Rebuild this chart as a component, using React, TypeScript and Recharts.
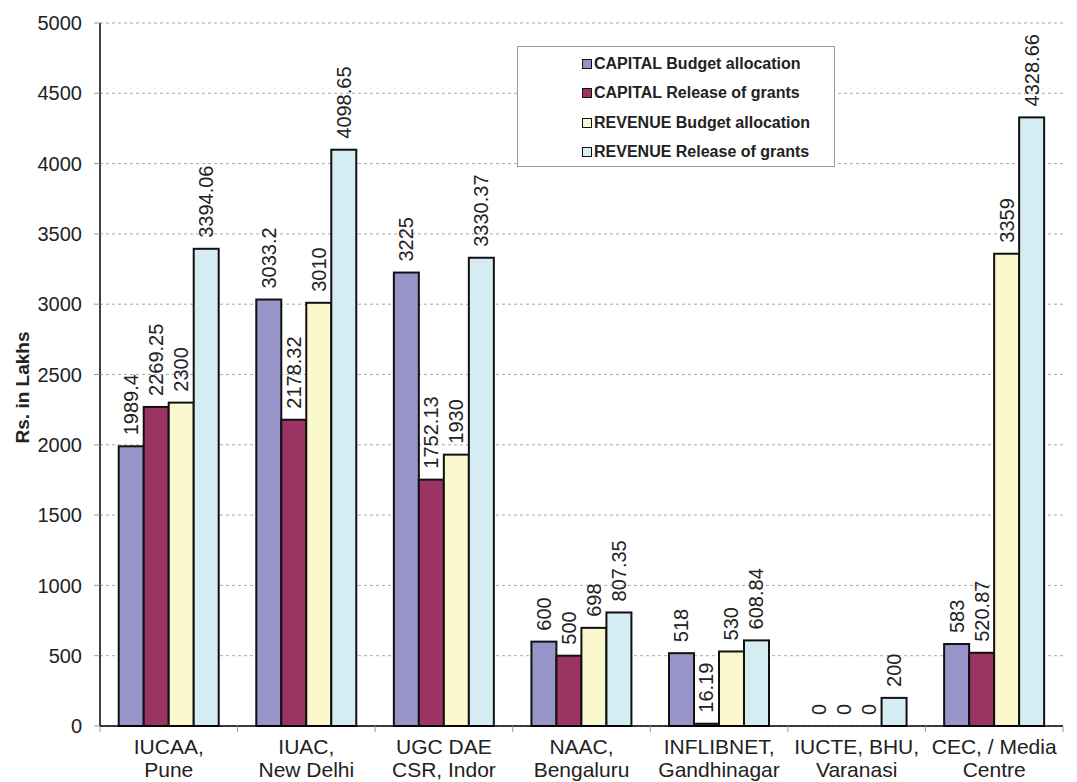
import React from 'react';
import { BarChart, Bar, XAxis, YAxis, CartesianGrid, Label } from 'recharts';

const categories = [
  'IUCAA,\nPune',
  'IUAC,\nNew Delhi',
  'UGC DAE\nCSR, Indor',
  'NAAC,\nBengaluru',
  'INFLIBNET,\nGandhinagar',
  'IUCTE, BHU,\nVaranasi',
  'CEC, / Media\nCentre',
];
const capitalBudget = [1989.4, 3033.2, 3225, 600, 518, 0, 583];
const capitalRelease = [2269.25, 2178.32, 1752.13, 500, 16.19, 0, 520.87];
const revenueBudget = [2300, 3010, 1930, 698, 530, 0, 3359];
const revenueRelease = [3394.06, 4098.65, 3330.37, 807.35, 608.84, 200, 4328.66];
const seriesNames = [
  'CAPITAL Budget allocation',
  'CAPITAL Release of grants',
  'REVENUE Budget allocation',
  'REVENUE Release of grants',
];
const yTicks = [0, 500, 1000, 1500, 2000, 2500, 3000, 3500, 4000, 4500, 5000];

const seriesKeys = ['capBudget', 'capRelease', 'revBudget', 'revRelease'];
const colors = ['#9694c8', '#9b3363', '#fbf8ce', '#d4ecf2'];

const FONT = '"Liberation Sans", Arial, Helvetica, sans-serif';
const W = 1077;
const H = 782;
const X_AXIS_H = 56;
const MARGIN = { top: 23, right: 14, bottom: 0, left: 0 };
const Y_AXIS_W = 100;
const BAND = (W - MARGIN.left - MARGIN.right - Y_AXIS_W) / categories.length;

const chartData = categories.map((name, i) => ({
  name,
  capBudget: capitalBudget[i],
  capRelease: capitalRelease[i],
  revBudget: revenueBudget[i],
  revRelease: revenueRelease[i],
}));

// bar rectangle + its value written vertically above it (zero bars too)
const BarWithLabel = (props: any) => {
  const { x, y, width, height, fill, payload, vkey } = props;
  const value = payload ? payload[vkey] : props.value;
  const cx = x + width / 2;
  const cy = y - 11;
  return (
    <g>
      {height > 0 && (
        <rect x={x} y={y} width={width} height={height} fill={fill} stroke="#111" strokeWidth={2} />
      )}
      <text
        x={cx}
        y={cy}
        transform={`rotate(-90 ${cx} ${cy})`}
        textAnchor="start"
        dominantBaseline="central"
        fontSize={20}
        fill="#222"
        fontFamily={FONT}
      >
        {value}
      </text>
    </g>
  );
};

const CategoryTick = (props: any) => {
  const { x, y, payload, index } = props;
  const lines = String(payload.value).split('\n');
  const half = BAND / 2;
  return (
    <g>
      <line x1={x - half} x2={x - half} y1={y} y2={y + 6} stroke="#999" />
      {index === categories.length - 1 && (
        <line x1={x + half} x2={x + half} y1={y} y2={y + 6} stroke="#999" />
      )}
      {lines.map((ln, i) => (
        <text key={i} x={x} y={y + 28 + i * 23} textAnchor="middle" fontSize={21} fill="#222" fontFamily={FONT}>
          {ln}
        </text>
      ))}
    </g>
  );
};

export default function App() {
  return (
    <div style={{ position: 'absolute', left: 0, top: 0, width: W, height: H, background: '#fff', fontFamily: FONT }}>
      <BarChart
        width={W}
        height={H}
        data={chartData}
        margin={MARGIN}
        barCategoryGap="13.6%"
        barGap={0}
      >
        <CartesianGrid vertical={false} stroke="#aaa" strokeDasharray="3 3" />
        <XAxis
          dataKey="name"
          interval={0}
          tickLine={false}
          tickSize={0}
          tickMargin={0}
          axisLine={{ stroke: '#000', strokeWidth: 1.5 }}
          tick={<CategoryTick />}
          height={X_AXIS_H}
        />
        <YAxis
          width={Y_AXIS_W}
          domain={[0, 5000]}
          ticks={yTicks}
          interval={0}
          tickSize={6}
          tickMargin={12}
          tickLine={{ stroke: '#999' }}
          axisLine={{ stroke: '#000', strokeWidth: 1.5 }}
          tick={{ fontSize: 20, fill: '#222', fontFamily: FONT }}
        >
          <Label
            content={({ viewBox }: any) => {
              const cx = 22;
              const cy = viewBox.y + viewBox.height / 2 + 13;
              return (
                <text
                  x={cx}
                  y={cy}
                  transform={`rotate(-90 ${cx} ${cy})`}
                  textAnchor="middle"
                  dominantBaseline="central"
                  fontSize={19}
                  fontWeight="bold"
                  fill="#222"
                  fontFamily={FONT}
                >
                  Rs. in Lakhs
                </text>
              );
            }}
          />
        </YAxis>
        {seriesKeys.map((k, i) => (
          <Bar
            key={k}
            dataKey={k}
            name={seriesNames[i]}
            fill={colors[i]}
            isAnimationActive={false}
            shape={(p: any) => <BarWithLabel {...p} vkey={k} />}
          />
        ))}
      </BarChart>

      {/* legend box */}
      <div
        style={{
          position: 'absolute',
          left: 517,
          top: 46,
          width: 318,
          height: 121,
          border: '1px solid #999',
          background: '#fff',
          boxSizing: 'border-box',
          paddingTop: 2,
          paddingLeft: 64,
        }}
      >
        {seriesNames.map((n, i) => (
          <div key={n} style={{ display: 'flex', alignItems: 'center', height: 29.5 }}>
            <div style={{ width: 8, height: 8, background: colors[i], border: '1.5px solid #111', marginRight: 2 }} />
            <span style={{ fontSize: 16, fontWeight: 'bold', color: '#222', whiteSpace: 'nowrap' }}>{n}</span>
          </div>
        ))}
      </div>
    </div>
  );
}
